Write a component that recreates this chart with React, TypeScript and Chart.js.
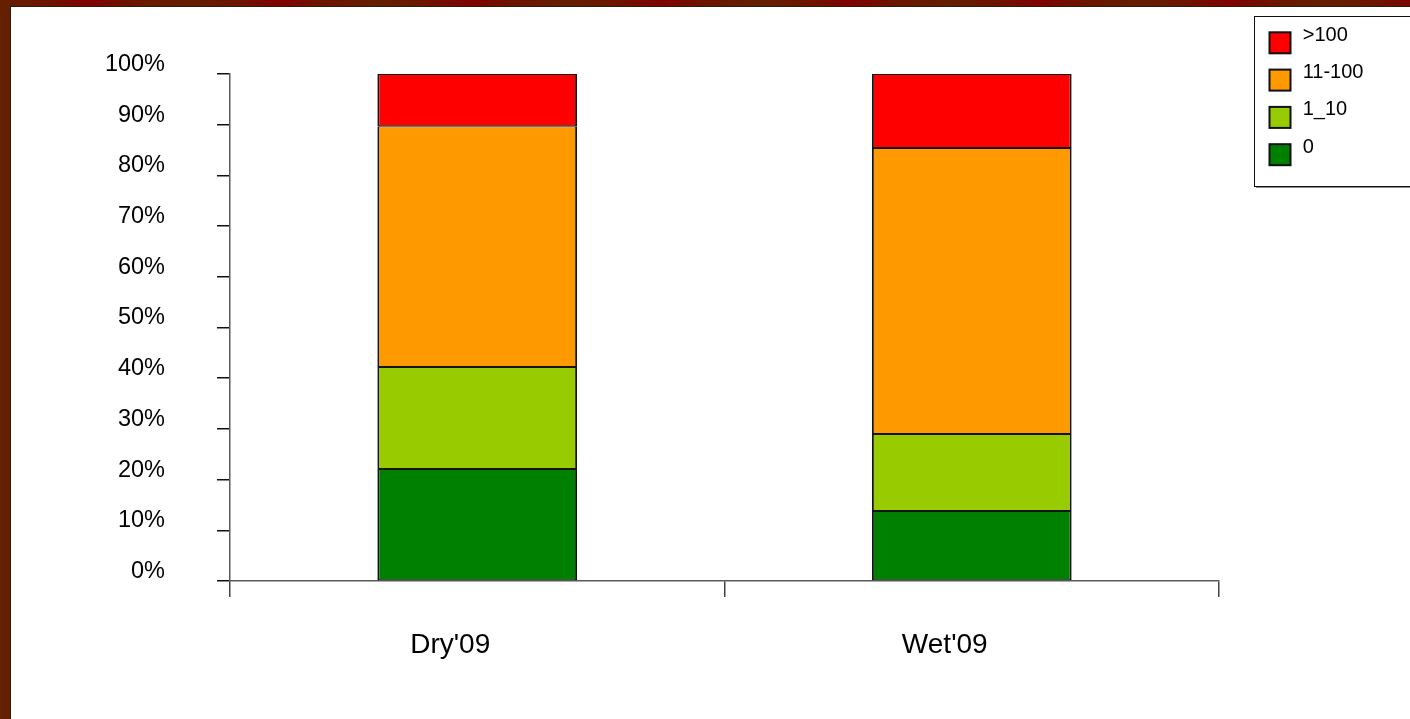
import React, { useEffect, useRef } from "react";
import { Chart, registerables } from "chart.js";

Chart.register(...registerables);

// Categories and the share (in %) of each class per season
const categories = ["Dry'09", "Wet'09"];
const zeroShare = [22.1, 13.8];
const oneToTenShare = [20.1, 15.2];
const elevenToHundredShare = [47.5, 56.4];
const overHundredShare = [10.3, 14.6];

const seriesLabels = ["0", "1_10", "11-100", ">100"];
const seriesColors = ["#008000", "#99cc00", "#ff9900", "#ff0000"];

const percentTickStep = 10;

const FONT = '"Liberation Sans", Arial, Helvetica, sans-serif';

const CANVAS_W = 1399;
const CANVAS_H = 712;

// Boxed legend in the top-right corner, listed from the top of the stack down
const boxLegend = {
  id: "boxLegend",
  afterDraw(chart: any) {
    const ctx: CanvasRenderingContext2D = chart.ctx;
    const left = 1243;
    const top = 9;
    const right = chart.width + 4;
    const bottom = 179;
    ctx.save();
    ctx.strokeStyle = "#111";
    ctx.lineWidth = 1;
    ctx.strokeRect(left + 0.5, top + 0.5, right - left, bottom - top);
    ctx.strokeStyle = "#8a8a8a";
    ctx.beginPath();
    ctx.moveTo(left + 2, bottom + 1.5);
    ctx.lineTo(right, bottom + 1.5);
    ctx.stroke();

    const items = chart.data.datasets.slice().reverse();
    items.forEach((ds: any, i: number) => {
      const sy = 25.3 + i * 37.3;
      ctx.fillStyle = ds.backgroundColor;
      ctx.fillRect(1258.5, sy, 21, 21);
      ctx.strokeStyle = "#111";
      ctx.lineWidth = 2;
      ctx.strokeRect(1258.5, sy, 21, 21);
      ctx.fillStyle = "#000";
      ctx.font = `20px ${FONT}`;
      ctx.textAlign = "left";
      ctx.textBaseline = "alphabetic";
      ctx.fillText(ds.label, 1291.7, sy + 8.4);
    });
    ctx.restore();
  },
};

export default function App() {
  const canvasRef = useRef<HTMLCanvasElement | null>(null);

  useEffect(() => {
    const canvas = canvasRef.current;
    if (!canvas) return;
    Chart.defaults.font.family = FONT;

    const seriesValues = [zeroShare, oneToTenShare, elevenToHundredShare, overHundredShare];

    const chart = new Chart(canvas, {
      type: "bar",
      data: {
        labels: categories,
        datasets: seriesValues.map((values, i) => ({
          label: seriesLabels[i],
          data: values,
          backgroundColor: seriesColors[i],
          borderColor: "#141414",
          borderWidth: { top: 1, bottom: 1, left: 2, right: 2 },
          borderSkipped: false,
          barPercentage: 0.404,
          categoryPercentage: 1,
        })),
      },
      options: {
        responsive: false,
        animation: false,
        layout: { padding: { top: 67, right: 191, left: 0, bottom: 0 } },
        plugins: {
          legend: { display: false },
          tooltip: { enabled: false },
        },
        scales: {
          x: {
            stacked: true,
            offset: true,
            grid: {
              offset: true,
              drawOnChartArea: false,
              drawTicks: true,
              tickLength: 16,
              color: "#444",
              lineWidth: 1.5,
            },
            border: { display: true, color: "#5a5a5a", width: 1.5 },
            ticks: {
              font: { family: FONT, size: 28 },
              color: "#000",
              padding: 31,
              labelOffset: -27,
              maxRotation: 0,
              autoSkip: false,
            },
            afterFit: (scale: any) => {
              scale.height = 138;
            },
          },
          y: {
            stacked: true,
            min: 0,
            max: 100,
            grid: {
              drawOnChartArea: false,
              drawTicks: true,
              tickLength: 13,
              color: "#111",
              lineWidth: 1.5,
            },
            border: { display: true, color: "#5a5a5a", width: 1.5 },
            ticks: {
              stepSize: percentTickStep,
              callback: (v: any) => `${v}%`,
              font: { family: FONT, size: 23.5 },
              color: "#000",
              padding: 52,
              labelOffset: -9.5,
            },
            afterFit: (scale: any) => {
              scale.width = 219;
            },
          },
        },
      },
      plugins: [boxLegend],
    });

    return () => chart.destroy();
  }, []);

  return (
    <div
      style={{
        position: "fixed",
        left: 0,
        top: 0,
        width: 1410,
        height: 719,
        overflow: "hidden",
        background:
          "repeating-linear-gradient(90deg, #621f00 0px, #6e1400 45px, #7e0200 90px, #6c1500 135px, #621f00 190px)",
      }}
    >
      <div
        style={{
          position: "absolute",
          left: 0,
          top: 0,
          width: 10,
          height: 719,
          background: "#642000",
        }}
      />
      <div
        style={{
          position: "absolute",
          left: 10,
          top: 6,
          width: 1400,
          height: 713,
          boxSizing: "border-box",
          borderLeft: "1px solid #2b1a12",
          borderTop: "1px solid #2b1a12",
          background: "#ffffff",
        }}
      >
        <canvas
          ref={canvasRef}
          width={CANVAS_W}
          height={CANVAS_H}
          style={{ display: "block", width: CANVAS_W, height: CANVAS_H }}
        />
      </div>
    </div>
  );
}
